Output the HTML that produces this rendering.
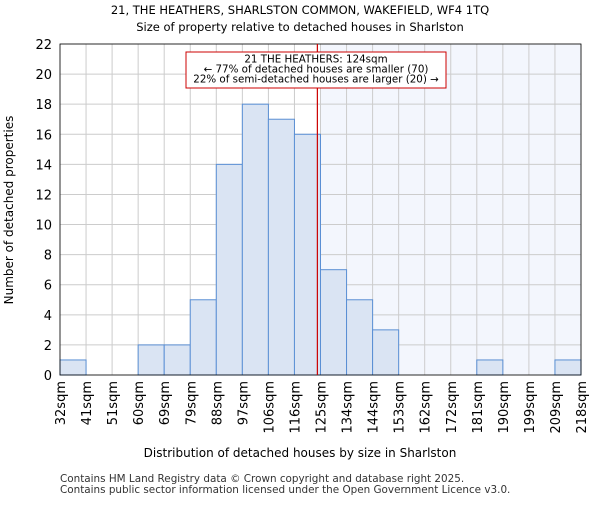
<!DOCTYPE html>
<html><head><meta charset="utf-8"><style>
body{margin:0;background:#fff;font-family:"Liberation Sans","DejaVu Sans",sans-serif}
</style></head><body>
<svg id="c" width="600" height="500" xmlns="http://www.w3.org/2000/svg" font-family="DejaVu Sans, Liberation Sans, sans-serif">
<text x="300" y="14" text-anchor="middle" font-size="11.5">21, THE HEATHERS, SHARLSTON COMMON, WAKEFIELD, WF4 1TQ</text>
<text x="300" y="31" text-anchor="middle" font-size="11.5">Size of property relative to detached houses in Sharlston</text>
<g id="grid"></g><g id="bars"></g><g id="axes"></g>
<text x="300" y="457" text-anchor="middle" font-size="12">Distribution of detached houses by size in Sharlston</text>
<text transform="translate(13,210) rotate(-90)" text-anchor="middle" font-size="12">Number of detached properties</text>
<text x="60" y="482" font-size="10.4" fill="#333">Contains HM Land Registry data © Crown copyright and database right 2025.</text>
<text x="60" y="493" font-size="10.4" fill="#333">Contains public sector information licensed under the Open Government Licence v3.0.</text>
</svg>
<script>
const labels=["32sqm","41sqm","51sqm","60sqm","69sqm","79sqm","88sqm","97sqm","106sqm","116sqm","125sqm","134sqm","144sqm","153sqm","162sqm","172sqm","181sqm","190sqm","199sqm","209sqm","218sqm"];
const counts=[1,0,0,2,2,5,14,18,17,16,7,5,3,0,0,0,1,0,0,1];
const yTicks=[0,2,4,6,8,10,12,14,16,18,20,22];
const markerIndex=9.88;
const highlightFrom=10;
const NS="http://www.w3.org/2000/svg";
const L=60,R=581,T=44,B=375,yMax=22;
const bw=(R-L)/counts.length;
const x=i=>L+i*bw, y=v=>B-(B-T)*v/yMax;
function mk(tag,at,parent){const e=document.createElementNS(NS,tag);for(const k in at)e.setAttribute(k,at[k]);document.getElementById(parent).appendChild(e);return e;}
let e=mk("rect",{x:x(highlightFrom),y:T,width:R-x(highlightFrom),height:B-T,fill:"#f3f6fd"},"grid");


yTicks.forEach(v=>{let g=mk("line",{x1:L,x2:R,y1:y(v),y2:y(v),stroke:"#ccc"},"grid");


let t=mk("text",{x:L-8,y:y(v)+5,"text-anchor":"end","font-size":"13"},"axes");t.textContent=v;

});
labels.forEach((lb,i)=>{let g=mk("line",{x1:x(i),x2:x(i),y1:T,y2:B,stroke:"#ccc"},"grid");


let t=mk("text",{transform:`translate(${x(i)+5},${B+6}) rotate(-90)`,"text-anchor":"end","font-size":"13"},"axes");t.textContent=lb;

});
counts.forEach((c,i)=>{if(!c)return;let r=mk("rect",{x:x(i),y:y(c),width:bw,height:B-y(c),fill:"#dae4f3",stroke:"#5a8fd4","stroke-width":"1"},"bars");

});
let ax=mk("rect",{x:L,y:T,width:R-L,height:B-T,fill:"none",stroke:"#000","stroke-width":"0.8"},"axes");


const mx=x(markerIndex);
let ml=mk("line",{x1:mx,x2:mx,y1:T,y2:B,stroke:"#c00","stroke-width":"1.2"},"axes");


let bx=mk("rect",{x:186,y:52,width:260,height:36,fill:"#fff",stroke:"#c00","stroke-width":"1"},"axes");


["21 THE HEATHERS: 124sqm","← 77% of detached houses are smaller (70)","22% of semi-detached houses are larger (20) →"].forEach((s,i)=>{let t=mk("text",{x:316,y:62.5+i*10,"text-anchor":"middle","font-size":"10.3"},"axes");t.textContent=s;

});
</script>
</body></html>
